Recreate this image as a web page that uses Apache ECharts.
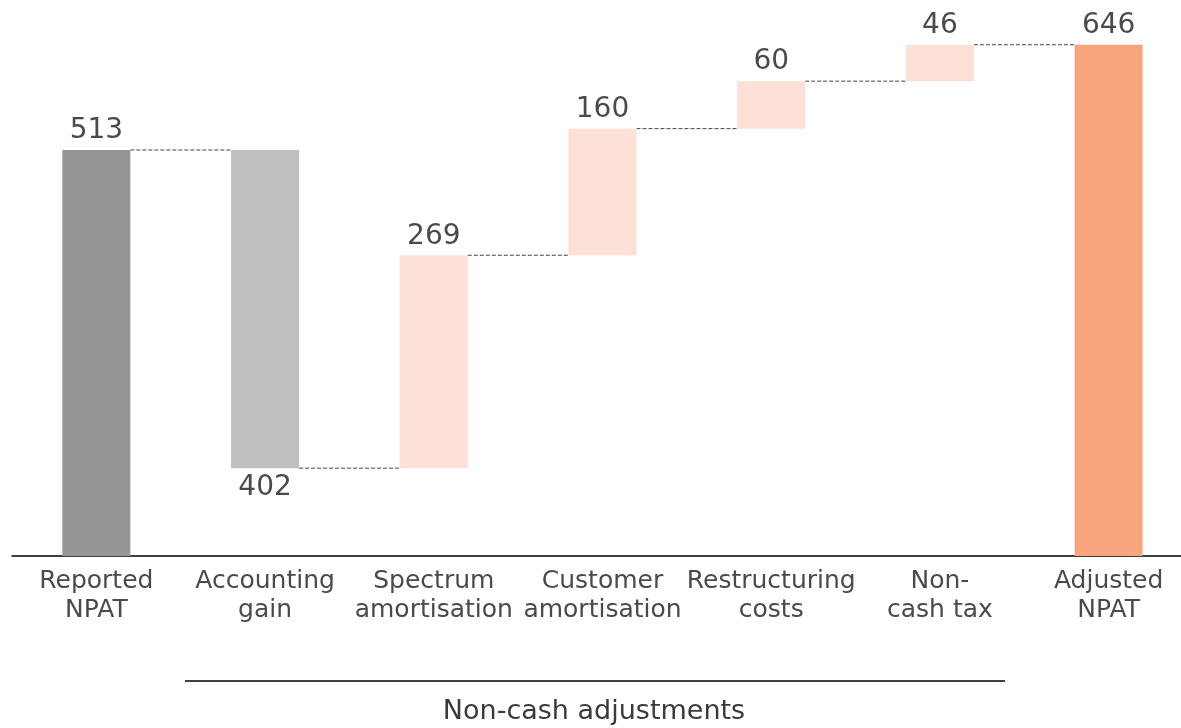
<!DOCTYPE html>
<html>
<head>
<meta charset="utf-8">
<script src="https://cdn.jsdelivr.net/npm/echarts@6/dist/echarts.min.js"></script>
<style>
  html, body { margin: 0; padding: 0; background: #fff; }
  #main { width: 1181px; height: 728px; }
</style>
</head>
<body>
<div id="main"></div>
<script>
// waterfall: NPAT bridge
const categories = ['Reported\nNPAT', 'Accounting\ngain', 'Spectrum\namortisation', 'Customer\namortisation', 'Restructuring\ncosts', 'Non-\ncash tax', 'Adjusted\nNPAT'];
const baseValues = [0, 111, 111, 380, 540, 600, 0];
const stepValues = [513, 402, 269, 160, 60, 46, 646];
const connectorLevels = [513, 111, 380, 540, 600, 646];
const barColors = ['#969696', '#bfbfbf', '#fde0d6', '#fde0d6', '#fde0d6', '#fde0d6', '#f7a57e'];

const FONT = 'DejaVu Sans';
const BAR_W = 68;

const chart = echarts.init(document.getElementById('main'), null, { renderer: 'canvas' });

const option = {
  animation: false,
  grid: { left: 12, width: 1181, top: 2, bottom: 172, containLabel: false, outerBoundsMode: 'none' },
  xAxis: {
    type: 'category',
    data: categories,
    axisLine: { lineStyle: { color: '#000', width: 1.5 } },
    axisTick: { show: false },
    axisLabel: {
      interval: 0,
      margin: 11,
      color: '#4a4a4a',
      fontFamily: FONT,
      fontSize: 25,
      lineHeight: 29
    }
  },
  yAxis: {
    type: 'value',
    min: 0,
    max: 700,
    show: false,
    splitLine: { show: false }
  },
  series: [
    {
      type: 'bar',
      stack: 'w',
      barWidth: BAR_W,
      itemStyle: { color: 'transparent' },
      emphasis: { disabled: true },
      data: baseValues
    },
    {
      type: 'bar',
      stack: 'w',
      barWidth: BAR_W,
      data: stepValues.map((v, i) => ({
        value: v,
        itemStyle: { color: barColors[i] },
        label: i === 1 ? { position: 'bottom', distance: 6 } : {}
      })),
      label: {
        show: true,
        position: 'top',
        distance: 5,
        color: '#4a4a4a',
        fontFamily: FONT,
        fontSize: 28
      }
    },
    {
      type: 'custom',
      silent: true,
      data: connectorLevels.map((v, i) => [i, v]),
      renderItem: function (params, api) {
        const i = api.value(0);
        const lvl = api.value(1);
        const p0 = api.coord([i, lvl]);
        const p1 = api.coord([i + 1, lvl]);
        return {
          type: 'line',
          shape: { x1: p0[0] + BAR_W / 2, y1: p0[1], x2: p1[0] - BAR_W / 2, y2: p1[1] },
          style: { stroke: '#444', lineWidth: 1, lineDash: [4, 2] }
        };
      }
    }
  ],
  graphic: [
    {
      type: 'line',
      shape: { x1: 185, y1: 681, x2: 1005, y2: 681 },
      style: { stroke: '#000', lineWidth: 1.5 }
    },
    {
      type: 'text',
      x: 594,
      y: 712,
      style: {
        text: 'Non-cash adjustments',
        fill: '#3a3a3a',
        font: '27px "DejaVu Sans"',
        align: 'center',
        verticalAlign: 'middle'
      }
    }
  ]
};

chart.setOption(option);
</script>
</body>
</html>
